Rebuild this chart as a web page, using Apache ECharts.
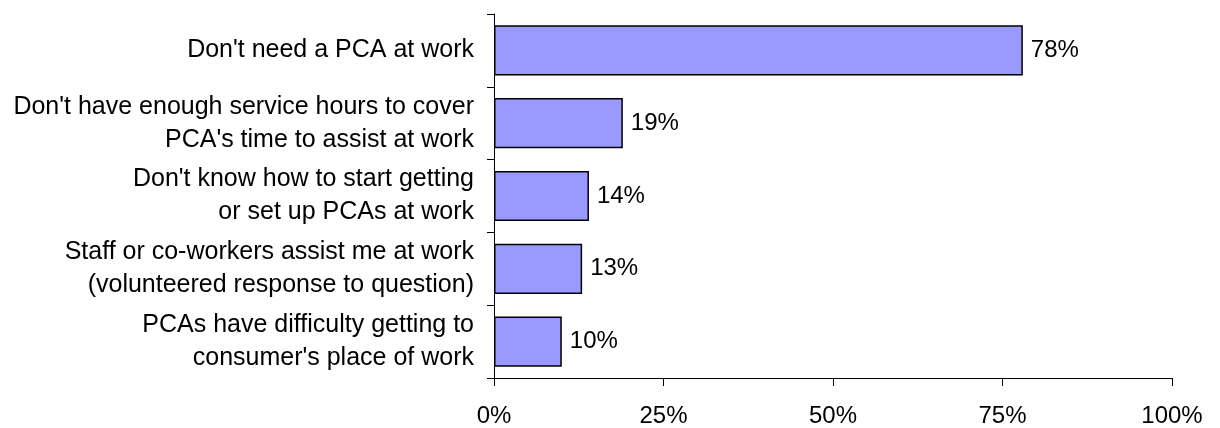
<!DOCTYPE html>
<html>
<head>
<meta charset="utf-8">
<script src="https://cdn.jsdelivr.net/npm/echarts@6/dist/echarts.min.js"></script>
<style>
  html, body { margin: 0; padding: 0; background: #fff; }
  #chart { width: 1220px; height: 428px; }
</style>
</head>
<body>
<div id="chart"></div>
<script>
const categories = [
  "Don't need a PCA at work",
  "Don't have enough service hours to cover\nPCA's time to assist at work",
  "Don't know how to start getting\nor set up PCAs at work",
  "Staff or co-workers assist me at work\n(volunteered response to question)",
  "PCAs have difficulty getting to\nconsumer's place of work"
]
const values = [78, 19, 14, 13, 10]
const xTicks = [0, 25, 50, 75, 100]

const chart = echarts.init(document.getElementById('chart'))

const font = 'Liberation Sans, Arial, sans-serif'

chart.setOption({
  animation: false,
  grid: {
    left: 494,
    right: 48,
    top: 14,
    bottom: 49
  },
  xAxis: {
    type: 'value',
    min: xTicks[0],
    max: xTicks[xTicks.length - 1],
    interval: 25,
    axisLine: { show: true, lineStyle: { color: '#000', width: 1 } },
    axisTick: { show: true, length: 8, lineStyle: { color: '#000' } },
    axisLabel: {
      color: '#000',
      fontSize: 24,
      fontFamily: font,
      margin: 26,
      formatter: v => v + '%'
    },
    splitLine: { show: false }
  },
  yAxis: {
    type: 'category',
    inverse: true,
    data: categories,
    axisLine: { show: true, lineStyle: { color: '#000', width: 1 } },
    axisTick: { show: true, length: 7, lineStyle: { color: '#000' } },
    axisLabel: {
      color: '#000',
      fontSize: 25,
      fontFamily: font,
      lineHeight: 33,
      margin: 20,
      align: 'right'
    }
  },
  series: [
    {
      type: 'bar',
      data: values,
      barCategoryGap: '31%',
      itemStyle: {
        color: '#9999FF',
        borderColor: '#000',
        borderWidth: 1.5
      },
      label: {
        show: true,
        position: 'right',
        distance: 8,
        color: '#000',
        fontSize: 24,
        fontFamily: font,
        formatter: p => p.value + '%'
      }
    }
  ]
})
</script>
</body>
</html>
